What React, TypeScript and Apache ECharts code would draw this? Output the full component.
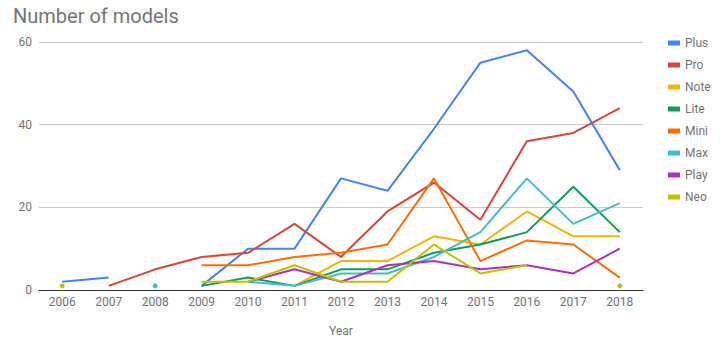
import React, { useEffect, useRef } from "react";
import * as echarts from "echarts";

const years = ["2006","2007","2008","2009","2010","2011","2012","2013","2014","2015","2016","2017","2018"];
const plus = [2, 3, null, 1, 10, 10, 27, 24, 39, 55, 58, 48, 29];
const pro = [null, 1, 5, 8, 9, 16, 8, 19, 26, 17, 36, 38, 44];
const note = [null, null, null, null, null, 1, 7, 7, 13, 11, 19, 13, 13];
const lite = [null, null, null, 1, 3, 1, 5, 5, 9, 11, 14, 25, 14];
const mini = [null, null, null, 6, 6, 8, 9, 11, 27, 7, 12, 11, 3];
const max = [null, null, 1, null, 2, 1, 4, 4, 8, 14, 27, 16, 21];
const play = [null, null, null, null, 2, 5, 2, 6, 7, 5, 6, 4, 10];
const neo = [1, null, null, 2, 2, 6, 2, 2, 11, 4, 6, null, 1];

const seriesNames = ["Plus", "Pro", "Note", "Lite", "Mini", "Max", "Play", "Neo"];
const seriesData = [plus, pro, note, lite, mini, max, play, neo];
const colors = ["#4285f4", "#db4437", "#f4b400", "#0f9d58", "#ff6d00", "#46bdc6", "#ab30c4", "#c2c100"];

function isolated(arr: (number | null)[], i: number) {
  if (arr[i] == null) return false;
  const prev = i > 0 ? arr[i - 1] : null;
  const next = i < arr.length - 1 ? arr[i + 1] : null;
  return prev == null && next == null;
}

export default function App() {
  const ref = useRef<HTMLDivElement>(null);
  useEffect(() => {
    document.body.style.margin = "0";
    if (!ref.current) return;
    const chart = echarts.init(ref.current, null, { renderer: "svg" });
    const font = "Roboto";
    chart.setOption({
      animation: false,
      color: colors,
      title: {
        text: "Number of models",
        left: 8,
        top: 1,
        textStyle: { fontFamily: font, fontSize: 20, fontWeight: "normal", color: "#757575" },
      },
      legend: {
        orient: "vertical",
        left: 663,
        top: 31,
        icon: "rect",
        itemWidth: 12,
        itemHeight: 5,
        itemGap: 8,
        textStyle: { fontFamily: font, fontSize: 12, color: "#757575", lineHeight: 14 },
        data: seriesNames,
      },
      grid: { left: 39, right: 84, top: 42, bottom: 50, outerBoundsMode: "none", containLabel: false },
      xAxis: {
        type: "category",
        data: years,
        boundaryGap: true,
        name: "Year",
        nameLocation: "middle",
        nameGap: 35,
        nameTextStyle: { fontFamily: font, fontSize: 12, color: "#757575" },
        axisLine: { lineStyle: { color: "#333333", width: 1 } },
        axisTick: { show: false },
        axisLabel: { fontFamily: font, fontSize: 12, color: "#757575", margin: 6 },
      },
      yAxis: {
        type: "value",
        min: 0,
        max: 60,
        interval: 20,
        axisLine: { show: false },
        axisTick: { show: false },
        axisLabel: { fontFamily: font, fontSize: 12, color: "#757575", margin: 7 },
        splitLine: { lineStyle: { color: "#cccccc", width: 1 } },
      },
      series: seriesNames.map((name, k) => ({
        name,
        type: "line",
        data: seriesData[k],
        connectNulls: false,
        symbol: "circle",
        showSymbol: true,
        symbolSize: (_v: any, p: any) => (isolated(seriesData[k], p.dataIndex) ? 5 : 0),
        lineStyle: { width: 2, color: colors[k] },
        itemStyle: { color: colors[k] },
        emphasis: { disabled: true },
      })),
    });
    return () => chart.dispose();
  }, []);
  return <div ref={ref} style={{ width: 727, height: 340 }} />;
}
